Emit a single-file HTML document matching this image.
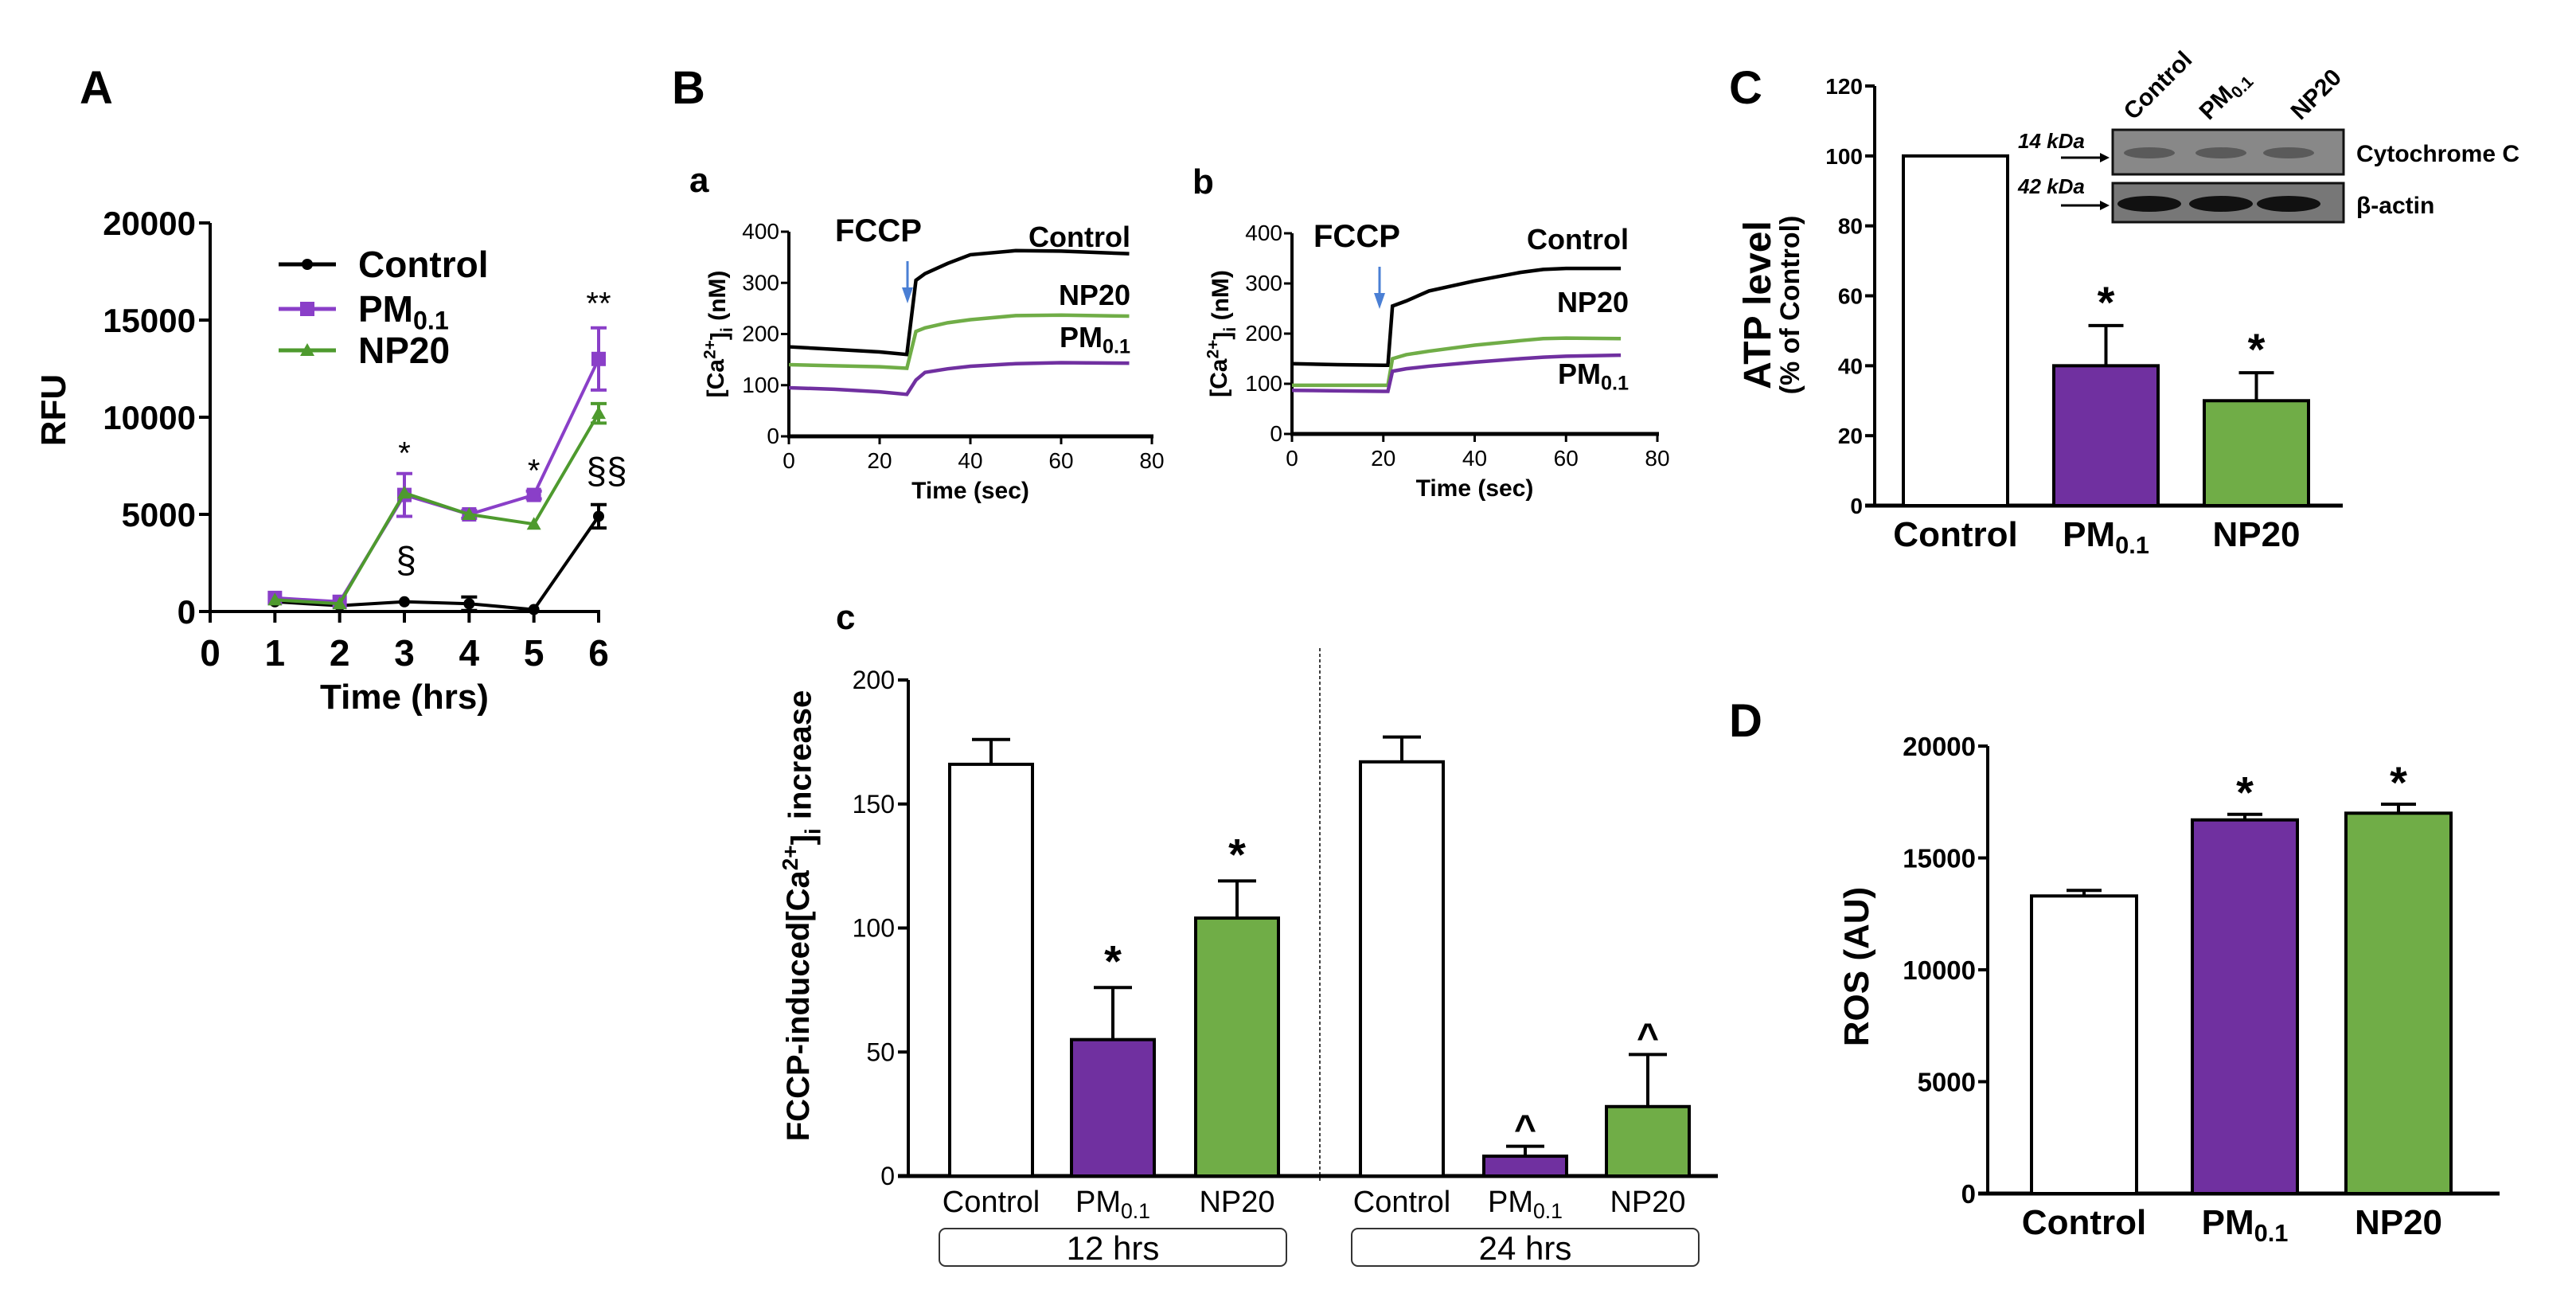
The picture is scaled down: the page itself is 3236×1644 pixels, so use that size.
<!DOCTYPE html>
<html><head><meta charset="utf-8">
<style>
html,body{margin:0;padding:0;background:#fff;}
svg{display:block;}
text{font-family:"Liberation Sans",sans-serif;fill:#000;}
.n{font-family:"Liberation Sans Narrow","Liberation Sans",sans-serif;}
</style></head>
<body>
<svg id="fig" width="3236" height="1644" viewBox="0 0 3236 1644" xmlns="http://www.w3.org/2000/svg"></svg>
<script>
// ---------- Panel A data ----------
const aTimes=[1,2,3,4,5,6];
const aXTicks=[0,1,2,3,4,5,6];
const aYTicks=[0,5000,10000,15000,20000];
const aControl=[500,300,500,400,100,4900];
const aControlErr=[0,0,0,350,0,600];
const aPM=[700,500,6000,5000,6000,13000];
const aPMErr=[0,0,1100,200,200,1600];
const aNP=[600,400,6100,5000,4500,10200];
const aNPErr=[0,0,0,0,0,500];
// ---------- Panel B a/b data ----------
const baTime=[0,10,20,26,28,30,35,40,50,60,75];
const baControl=[175,170,165,160,305,318,338,355,363,362,357];
const baNP=[140,138,136,133,205,212,222,228,236,237,235];
const baPM=[95,92,87,82,110,125,132,137,142,144,143];
const bbTime=[0,10,20,21,22,25,30,40,50,55,60,72];
const bbControl=[140,138,137,137,255,265,285,305,322,328,330,330];
const bbNP=[97,97,97,97,150,158,165,177,186,190,191,190];
const bbPM=[87,86,85,85,125,130,135,143,150,153,155,157];
const bXTicks=[0,20,40,60,80];
const bYTicks=[0,100,200,300,400];
// ---------- Panel c data ----------
const cCats=["Control","PM","NP20","Control","PM","NP20"];
const cValues=[166,55,104,167,8,28];
const cErrors=[10,21,15,10,4,21];
const cMarks=["","*","*","","^","^"];
const cYTicks=[0,50,100,150,200];
// ---------- Panel C data ----------
const CCats=["Control","PM","NP20"];
const CValues=[100,40,30];
const CErrors=[0,11.5,8];
const CYTicks=[0,20,40,60,80,100,120];
// ---------- Panel D data ----------
const DCats=["Control","PM","NP20"];
const DValues=[13300,16700,17000];
const DErrors=[250,250,400];
const DYTicks=[0,5000,10000,15000,20000];

const PURPLE="#7030a0", GREEN="#70ad47", LPURPLE="#8a3fc8", LGREEN="#4e9a2e";
const NS="http://www.w3.org/2000/svg";
const svg=document.getElementById('fig');
function mk(tag,parent){const e=document.createElementNS(NS,tag);parent.appendChild(e);return e;}
function sc(d0,d1,r0,r1){return v=>r0+(v-d0)/(d1-d0)*(r1-r0);}
function ln(p,x1,y1,x2,y2,col,w,name){const e=mk('line',p);e.setAttribute('x1',x1);e.setAttribute('y1',y1);e.setAttribute('x2',x2);e.setAttribute('y2',y2);e.setAttribute('stroke',col);e.setAttribute('stroke-width',w);


return e;}
function tx(p,x,y,s,size,anchor,cls,weight,name){const e=mk('text',p);e.setAttribute('x',x);e.setAttribute('y',y);e.setAttribute('font-size',size);e.setAttribute('text-anchor',anchor);if(cls)e.setAttribute('class',cls);e.setAttribute('font-weight',weight||'bold');e.innerHTML=s;


return e;}
function grp(name){const g=mk('g',svg);


return g;}
const PM01='PM<tspan font-size="0.7em" dy="0.3em">0.1</tspan>';

// ================= Panel A =================
(function(){
const g=grp('panel-a');
tx(g,100,130,'A',58,'start','','bold','panel-label-a');
const X=sc(0,6,264,752), Y=sc(0,20000,768,280);
ln(g,264,280,264,770,'#000',4,'a-y-axis');
ln(g,262,768,754,768,'#000',4,'a-x-axis');
aYTicks.forEach(v=>{ln(g,250,Y(v),264,Y(v),'#000',4,'a-y-tick');tx(g,246,Y(v)+15,v,42,'end','','bold','a-y-tick-label');});
aXTicks.forEach(v=>{ln(g,X(v),768,X(v),782,'#000',4,'a-x-tick');tx(g,X(v),836,v,46,'middle','','bold','a-x-tick-label');});
tx(g,508,890,'Time (hrs)',44,'middle','','bold','a-x-axis-title');
const t=tx(g,0,0,'RFU',44,'middle','','bold','a-y-axis-title');t.setAttribute('transform','translate(82,515) rotate(-90)');
function series(vals,errs,col,name,marker){
  const pl=mk('polyline',g);pl.setAttribute('points',aTimes.map((tt,i)=>X(tt)+','+Y(vals[i])).join(' '));pl.setAttribute('fill','none');pl.setAttribute('stroke',col);pl.setAttribute('stroke-width',4);
  
  
  aTimes.forEach((tt,i)=>{
    if(errs[i]>0){ln(g,X(tt),Y(vals[i]-errs[i]),X(tt),Y(vals[i]+errs[i]),col,4,name+'-error-bar');ln(g,X(tt)-10,Y(vals[i]+errs[i]),X(tt)+10,Y(vals[i]+errs[i]),col,4,name+'-error-cap');ln(g,X(tt)-10,Y(vals[i]-errs[i]),X(tt)+10,Y(vals[i]-errs[i]),col,4,name+'-error-cap');}
    let m;
    if(marker==='c'){m=mk('circle',g);m.setAttribute('cx',X(tt));m.setAttribute('cy',Y(vals[i]));m.setAttribute('r',7);}
    else if(marker==='s'){m=mk('rect',g);m.setAttribute('x',X(tt)-9);m.setAttribute('y',Y(vals[i])-9);m.setAttribute('width',18);m.setAttribute('height',18);}
    else{m=mk('polygon',g);const cx=X(tt),cy=Y(vals[i]);m.setAttribute('points',`${cx},${cy-9} ${cx-9},${cy+7} ${cx+9},${cy+7}`);}
    m.setAttribute('fill',col);
    
    
  });
}
series(aControl,aControlErr,'#000','a-control','c');
series(aPM,aPMErr,LPURPLE,'a-pm01','s');
series(aNP,aNPErr,LGREEN,'a-np20','t');
tx(g,X(3),Y(7600),'*',40,'middle','','normal','a-sig-star');
tx(g,X(5),Y(6700),'*',40,'middle','','normal','a-sig-star');
tx(g,X(6),Y(15300),'**',40,'middle','','normal','a-sig-star');
tx(g,X(3)+2,Y(2000),'§',46,'middle','','normal','a-sig-section');
tx(g,X(6)+10,Y(6600),'§§',46,'middle','','normal','a-sig-section');
const lg=[['Control','#000','c',332],[PM01,LPURPLE,'s',388],['NP20',LGREEN,'t',440]];
lg.forEach((l,i)=>{ln(g,350,l[3],422,l[3],l[1],5,'legend-line');
  let m;if(l[2]==='c'){m=mk('circle',g);m.setAttribute('cx',386);m.setAttribute('cy',l[3]);m.setAttribute('r',7);}else if(l[2]==='s'){m=mk('rect',g);m.setAttribute('x',377);m.setAttribute('y',l[3]-9);m.setAttribute('width',18);m.setAttribute('height',18);}else{m=mk('polygon',g);m.setAttribute('points',`386,${l[3]-9} 377,${l[3]+7} 395,${l[3]+7}`);}
  m.setAttribute('fill',l[1]);
  
  
  tx(g,450,l[3]+16,l[0],46,'start','','bold','legend-entry');});
})();

// ================= Panel B a,b =================
tx(svg,844,130,'B',58,'start','','bold','panel-label-b');
function calcium(ox,x80,y0,y400,times,ctrl,np,pm,letter,arrowX,labels){
const g=grp('panel-b-'+letter);
const X=sc(0,80,ox,x80), Y=sc(0,400,y0,y400);
tx(g,ox-125,y400-50,letter,44,'start','','bold','subpanel-label-'+letter);
ln(g,ox,y400,ox,y0+2,'#000',4,'b-y-axis');
ln(g,ox-2,y0,x80+2,y0,'#000',5,'b-x-axis');
bYTicks.forEach(v=>{ln(g,ox-10,Y(v),ox,Y(v),'#000',3,'b-y-tick');tx(g,ox-12,Y(v)+9,v,28,'end','n','normal','b-y-tick-label');});
bXTicks.forEach(v=>{ln(g,X(v),y0,X(v),y0+10,'#000',3,'b-x-tick');tx(g,X(v),y0+40,v,28,'middle','n','normal','b-x-tick-label');});
tx(g,(ox+x80)/2,y0+78,'Time (sec)',30,'middle','n','bold','b-x-axis-title');
const t=tx(g,0,0,'[Ca<tspan font-size="0.7em" dy="-0.5em">2+</tspan><tspan dy="0.5em">]</tspan><tspan font-size="0.7em" dy="0.3em">i</tspan><tspan dy="-0.3em"> (nM)</tspan>',30,'middle','n','bold','b-y-axis-title');
t.setAttribute('transform',`translate(${ox-82},${(y0+y400)/2}) rotate(-90)`);
[[ctrl,'#000','control'],[np,GREEN,'np20'],[pm,PURPLE,'pm01']].forEach(s=>{
  const pl=mk('polyline',g);pl.setAttribute('points',times.map((tt,i)=>X(tt)+','+Y(s[0][i])).join(' '));pl.setAttribute('fill','none');pl.setAttribute('stroke',s[1]);pl.setAttribute('stroke-width',4.5);
  
  
});
tx(g,labels[0],labels[1],'FCCP',40,'start','','bold','fccp-label');
ln(g,arrowX,labels[1]+25,arrowX,labels[1]+62,'#4a7fd4',3,'fccp-arrow');
const ah=mk('polygon',g);ah.setAttribute('points',`${arrowX-7},${labels[1]+58} ${arrowX+7},${labels[1]+58} ${arrowX},${labels[1]+78}`);ah.setAttribute('fill','#4a7fd4');


tx(g,labels[2],labels[3],'Control',36,'end','n','bold','b-control-label');
tx(g,labels[2],labels[4],'NP20',36,'end','n','bold','b-np20-label');
tx(g,labels[2],labels[5],PM01,36,'end','n','bold','b-pm01-label');
}
calcium(991,1447,548,291,baTime,baControl,baNP,baPM,'a',1140,[1049,303,1420,310,383,436]);
calcium(1623,2082,545,293,bbTime,bbControl,bbNP,bbPM,'b',1733,[1650,310,2046,313,392,482]);

// ================= Panel c =================
(function(){
const g=grp('panel-b-c');
tx(g,1050,790,'c',44,'start','','bold','subpanel-label-c');
const Y=sc(0,200,1477,854);
const xs=[1193,1346,1502,1709,1864,2018], w=104;
const fills=['#fff',PURPLE,GREEN,'#fff',PURPLE,GREEN];
ln(g,1141,854,1141,1479,'#000',4,'c-y-axis');
ln(g,1128,1477,2158,1477,'#000',5,'c-x-axis');
cYTicks.forEach(v=>{ln(g,1128,Y(v),1141,Y(v),'#000',4,'c-y-tick');tx(g,1124,Y(v)+11,v,32,'end','n','normal','c-y-tick-label');});
const dl=ln(g,1658,814,1658,1483,'#000',1.5,'c-divider');dl.setAttribute('stroke-dasharray','4,3');
cValues.forEach((v,i)=>{
  const r=mk('rect',g);r.setAttribute('x',xs[i]);r.setAttribute('y',Y(v));r.setAttribute('width',w);r.setAttribute('height',Y(0)-Y(v));r.setAttribute('fill',fills[i]);r.setAttribute('stroke','#000');r.setAttribute('stroke-width',4);
  
  
  const cx=xs[i]+w/2;
  ln(g,cx,Y(v),cx,Y(v+cErrors[i]),'#000',4,'c-error-bar');
  ln(g,cx-24,Y(v+cErrors[i]),cx+24,Y(v+cErrors[i]),'#000',4,'c-error-cap');
  if(cMarks[i])tx(g,cx,Y(v+cErrors[i])-(cMarks[i]==='*'?14:6),cMarks[i],cMarks[i]==='*'?56:48,'middle','','bold','c-sig-mark');
  tx(g,cx,1522,cCats[i]==='PM'?PM01:cCats[i],38,'middle','n','normal','c-category-label');
});
[[1180,'12 hrs'],[1698,'24 hrs']].forEach(b=>{
  const r=mk('rect',g);r.setAttribute('x',b[0]);r.setAttribute('y',1543);r.setAttribute('width',436);r.setAttribute('height',47);r.setAttribute('rx',8);r.setAttribute('fill','#fff');r.setAttribute('stroke','#333');r.setAttribute('stroke-width',2);
  
  
  tx(g,b[0]+218,1582,b[1],42,'middle','n','normal','time-group-label');
});
const t=tx(g,0,0,'FCCP-induced[Ca<tspan font-size="0.7em" dy="-0.5em">2+</tspan><tspan dy="0.5em">]</tspan><tspan font-size="0.7em" dy="0.3em">i</tspan><tspan dy="-0.3em"> increase</tspan>',40,'middle','','bold','c-y-axis-title');
t.setAttribute('transform','translate(1016,1150) rotate(-90)');
})();

// ================= Panel C =================
(function(){
const g=grp('panel-c');
tx(g,2172,130,'C',58,'start','','bold','panel-label-c');
const Y=sc(0,120,635,108);
const xs=[2391,2580,2769], w=131, fills=['#fff',PURPLE,GREEN];
ln(g,2355,108,2355,637,'#000',4,'C-y-axis');
ln(g,2343,635,2943,635,'#000',5,'C-x-axis');
CYTicks.forEach(v=>{ln(g,2343,Y(v),2355,Y(v),'#000',4,'C-y-tick');tx(g,2340,Y(v)+10,v,28,'end','','bold','C-y-tick-label');});
CValues.forEach((v,i)=>{
  const r=mk('rect',g);r.setAttribute('x',xs[i]);r.setAttribute('y',Y(v));r.setAttribute('width',w);r.setAttribute('height',Y(0)-Y(v));r.setAttribute('fill',fills[i]);r.setAttribute('stroke','#000');r.setAttribute('stroke-width',4);
  
  
  const cx=xs[i]+w/2;
  if(CErrors[i]>0){ln(g,cx,Y(v),cx,Y(v+CErrors[i]),'#000',4,'C-error-bar');ln(g,cx-22,Y(v+CErrors[i]),cx+22,Y(v+CErrors[i]),'#000',4,'C-error-cap');
  tx(g,cx,Y(v+CErrors[i])-10,'*',56,'middle','','bold','C-sig-star');}
  tx(g,cx,686,CCats[i]==='PM'?PM01:CCats[i],44,'middle','','bold','C-category-label');
});
const t1=tx(g,0,0,'ATP level',48,'middle','','bold','C-y-axis-title');t1.setAttribute('transform','translate(2224,383) rotate(-90)');
const t2=tx(g,0,0,'(% of Control)',34,'middle','','bold','C-y-axis-subtitle');t2.setAttribute('transform','translate(2260,383) rotate(-90)');
[[163,219,'cytochrome-c-blot','#888'],[230,279,'beta-actin-blot','#777']].forEach(b=>{
  const r=mk('rect',g);r.setAttribute('x',2654);r.setAttribute('y',b[0]);r.setAttribute('width',290);r.setAttribute('height',b[1]-b[0]);r.setAttribute('fill',b[3]);r.setAttribute('stroke','#111');r.setAttribute('stroke-width',3);
  
  
});
[2700,2790,2875].forEach(x=>{const e=mk('ellipse',g);e.setAttribute('cx',x);e.setAttribute('cy',192);e.setAttribute('rx',32);e.setAttribute('ry',7);e.setAttribute('fill','#5a5a5a');


const f=mk('ellipse',g);f.setAttribute('cx',x);f.setAttribute('cy',256);f.setAttribute('rx',40);f.setAttribute('ry',10);f.setAttribute('fill','#111');

});
tx(g,2535,186,'14 kDa',26,'start','','bold','kda-label-14').setAttribute('font-style','italic');
tx(g,2535,243,'42 kDa',26,'start','','bold','kda-label-42').setAttribute('font-style','italic');
[198,258].forEach(y=>{ln(g,2589,y,2640,y,'#000',3,'blot-arrow');const p=mk('polygon',g);p.setAttribute('points',`2638,${y-6} 2650,${y} 2638,${y+6}`);

});
tx(g,2960,203,'Cytochrome C',30,'start','n','bold','cytochrome-c-label');
tx(g,2960,268,'β-actin',30,'start','n','bold','beta-actin-label');
[['Control',2680],[PM01,2775],['NP20',2890]].forEach(l=>{const t=tx(g,0,0,l[0],30,'start','','bold','blot-lane-label');t.setAttribute('transform',`translate(${l[1]},152) rotate(-45)`);});
})();

// ================= Panel D =================
(function(){
const g=grp('panel-d');
tx(g,2172,925,'D',58,'start','','bold','panel-label-d');
const Y=sc(0,20000,1499,937);
const xs=[2552,2754,2947], w=132, fills=['#fff',PURPLE,GREEN];
ln(g,2497,937,2497,1501,'#000',4,'D-y-axis');
ln(g,2485,1499,3140,1499,'#000',5,'D-x-axis');
DYTicks.forEach(v=>{ln(g,2485,Y(v),2497,Y(v),'#000',4,'D-y-tick');tx(g,2482,Y(v)+12,v,33,'end','','bold','D-y-tick-label');});
DValues.forEach((v,i)=>{
  const r=mk('rect',g);r.setAttribute('x',xs[i]);r.setAttribute('y',Y(v));r.setAttribute('width',w);r.setAttribute('height',Y(0)-Y(v));r.setAttribute('fill',fills[i]);r.setAttribute('stroke','#000');r.setAttribute('stroke-width',4);
  
  
  const cx=xs[i]+w/2;
  ln(g,cx,Y(v),cx,Y(v+DErrors[i]),'#000',4,'D-error-bar');ln(g,cx-22,Y(v+DErrors[i]),cx+22,Y(v+DErrors[i]),'#000',4,'D-error-cap');
  if(i>0)tx(g,cx,Y(v+DErrors[i])-8,'*',56,'middle','','bold','D-sig-star');
  tx(g,cx,1550,DCats[i]==='PM'?PM01:DCats[i],44,'middle','','bold','D-category-label');
});
const t=tx(g,0,0,'ROS (AU)',44,'middle','','bold','D-y-axis-title');t.setAttribute('transform','translate(2347,1214) rotate(-90)');
})();
</script>
</body></html>
